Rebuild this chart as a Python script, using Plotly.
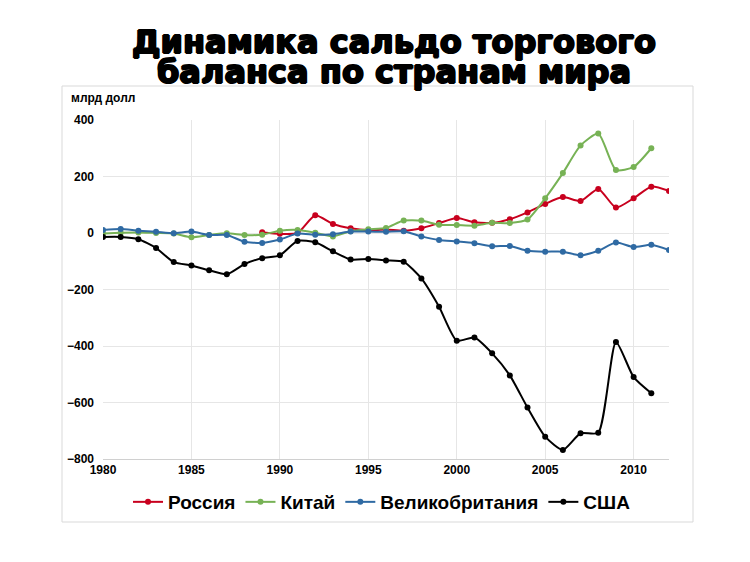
import plotly.graph_objects as go

# годы
years_all = list(range(1980, 2013))
years_russia = list(range(1989, 2013))
years_china = list(range(1980, 2012))
years_usa = list(range(1980, 2012))

# сальдо, млрд долл (оценено по картинке)
russia = [3, -3, 0, 63, 32, 17, 10, 12, 8, 17, 35, 53, 38, 36, 49, 73, 103, 127, 113, 156, 90, 123, 164, 149]
china = [-2, 1, 2, 0, -2, -15, -7, -1, -7, -6, 8, 11, 1, -12, 6, 13, 18, 44, 44, 29, 28, 26, 36, 35, 48, 123,
         212, 310, 352, 223, 234, 300]
uk = [11, 14, 8, 4, -1, 5, -7, -7, -31, -35, -23, -2, -6, -4, 5, 5, 4, 6, -12, -25, -30, -36, -47, -46, -63,
      -66, -66, -79, -63, -34, -50, -42, -60]
usa = [-14, -14, -22, -53, -103, -115, -132, -146, -110, -89, -79, -28, -33, -65, -94, -92, -97, -102, -161,
       -261, -381, -370, -426, -504, -618, -721, -768, -709, -707, -386, -510, -567]

series = [
    ("Россия", years_russia, russia, "#C8001E"),
    ("Китай", years_china, china, "#77B255"),
    ("Великобритания", years_all, uk, "#2F6AA3"),
    ("США", years_usa, usa, "#000000"),
]

fig = go.Figure()
for name, xs, ys, color in series:
    fig.add_trace(go.Scatter(
        x=xs, y=ys, name=name,
        mode="lines+markers",
        line=dict(color=color, width=2, shape="spline", smoothing=0.6),
        marker=dict(color=color, size=6),
    ))

font_main = "Liberation Sans, Arial, sans-serif"
# жирнее, чем просто bold: обводка тенью
title_font = dict(size=32, family="DejaVu Sans, sans-serif", weight="bold",
                  shadow="1px 0 0 black, -1px 0 0 black, 0 0.6px 0 black, 0 -0.6px 0 black")

# размеры области построения в пикселях (для пересчёта в доли paper)
W, H = 566, 339
X0, Y0 = 103, 459   # левый нижний угол области на картинке


def px(x):
    return (x - X0) / W


def py(y):
    return (Y0 - y) / H


fig.update_layout(
    width=750, height=562,
    margin=dict(l=95, r=89, t=112, b=111, autoexpand=False),
    paper_bgcolor="white",
    plot_bgcolor="white",
    font=dict(family=font_main, color="black"),
    showlegend=True,
    legend=dict(
        orientation="h", x=px(382), xanchor="center", y=py(502), yanchor="middle",
        font=dict(size=19, family=font_main, weight="bold"),
        itemwidth=30, tracegroupgap=0,
    ),
    xaxis=dict(
        range=[1980, 2012], tick0=1980, dtick=5,
        showgrid=True, gridcolor="#E6E6E6", gridwidth=1,
        showline=True, linecolor="#D0D0D0", linewidth=1,
        zeroline=False, ticks="",
        tickfont=dict(size=12, weight="bold"),
    ),
    yaxis=dict(
        range=[-800, 400], tick0=-800, dtick=200,
        showgrid=True, gridcolor="#E6E6E6", gridwidth=1,
        showline=False, zeroline=False, ticks="",
        ticklabelstandoff=8,
        tickfont=dict(size=12, weight="bold"),
    ),
    shapes=[dict(
        type="rect", xref="paper", yref="paper",
        x0=px(62), x1=px(693), y0=py(522), y1=py(86),
        line=dict(color="#D9D9D9", width=1), layer="below",
    )],
    annotations=[
        dict(text="Динамика сальдо торгового", xref="paper", yref="paper",
             x=px(394), y=py(42), xanchor="center", yanchor="middle",
             showarrow=False, font=title_font),
        dict(text="баланса по странам мира", xref="paper", yref="paper",
             x=px(394), y=py(72), xanchor="center", yanchor="middle",
             showarrow=False, font=title_font),
        dict(text="млрд долл", xref="paper", yref="paper",
             x=px(69), y=py(98), xanchor="left", yanchor="middle",
             showarrow=False, font=dict(size=12, weight="bold")),
    ],
)

fig.write_html("out.html")
